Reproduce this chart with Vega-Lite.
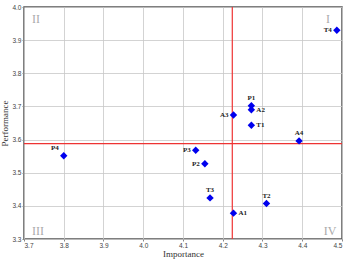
{
  "$schema": "https://vega.github.io/schema/vega-lite/v6.json",
  "width": 349,
  "height": 260,
  "autosize": {"type": "fit", "contains": "padding"},
  "padding": {"left": 0, "top": 4, "right": 6, "bottom": 1},
  "background": "white",
  "config": {
    "view": {"stroke": "#555555", "strokeWidth": 1.5},
    "axis": {
      "gridColor": "#c8c8c8",
      "gridWidth": 0.8,
      "domain": false,
      "tickColor": "#888888",
      "tickSize": 2,
      "labelFont": "Liberation Sans",
      "labelFontSize": 6.5,
      "labelColor": "#444444",
      "labelPadding": 1,
      "labelOverlap": false,
      "labelBound": false,
      "titleFont": "Liberation Serif",
      "titleFontSize": 9,
      "titleFontWeight": "normal",
      "titleColor": "#333333"
    },
    "axisX": {"values": [3.7, 3.8, 3.9, 4.0, 4.1, 4.2, 4.3, 4.4, 4.5], "format": ".1f", "titlePadding": 1},
    "axisY": {"values": [3.3, 3.4, 3.5, 3.6, 3.7, 3.8, 3.9, 4.0], "format": ".1f", "titlePadding": 2}
  },
  "datasets": {
    "pts": [
      {"name": "T4", "imp": 4.487, "perf": 3.930},
      {"name": "P1", "imp": 4.272, "perf": 3.702},
      {"name": "A2", "imp": 4.272, "perf": 3.690},
      {"name": "A3", "imp": 4.227, "perf": 3.674},
      {"name": "T1", "imp": 4.272, "perf": 3.643},
      {"name": "A4", "imp": 4.392, "perf": 3.596},
      {"name": "P3", "imp": 4.132, "perf": 3.568},
      {"name": "P2", "imp": 4.155, "perf": 3.527},
      {"name": "P4", "imp": 3.800, "perf": 3.551},
      {"name": "T3", "imp": 4.168, "perf": 3.424},
      {"name": "T2", "imp": 4.310, "perf": 3.407},
      {"name": "A1", "imp": 4.227, "perf": 3.378}
    ],
    "quad": [
      {"q": "I", "imp": 4.465, "perf": 3.965},
      {"q": "II", "imp": 3.73, "perf": 3.965},
      {"q": "III", "imp": 3.735, "perf": 3.325},
      {"q": "IV", "imp": 4.47, "perf": 3.325}
    ],
    "vline": [{"imp": 4.224}],
    "hline": [{"perf": 3.588}]
  },
  "layer": [
    {
      "data": {"name": "pts"},
      "mark": {"type": "point", "opacity": 0},
      "encoding": {
        "x": {"field": "imp", "type": "quantitative", "title": "Importance",
              "scale": {"domain": [3.7, 4.5], "nice": false, "zero": false}},
        "y": {"field": "perf", "type": "quantitative", "title": "Performance",
              "scale": {"domain": [3.3, 4.0], "nice": false, "zero": false}}
      }
    },
    {
      "data": {"name": "vline"},
      "mark": {"type": "rule", "color": "#ee3333", "strokeWidth": 1.2},
      "encoding": {"x": {"field": "imp", "type": "quantitative", "title": "Importance"}}
    },
    {
      "data": {"name": "hline"},
      "mark": {"type": "rule", "color": "#ee3333", "strokeWidth": 1.2},
      "encoding": {"y": {"field": "perf", "type": "quantitative", "title": "Performance"}}
    },
    {
      "data": {"name": "quad"},
      "mark": {"type": "text", "font": "Liberation Serif", "fontSize": 12, "color": "#aaaaaa", "align": "center", "baseline": "middle"},
      "encoding": {
        "x": {"field": "imp", "type": "quantitative", "title": "Importance"},
        "y": {"field": "perf", "type": "quantitative", "title": "Performance"},
        "text": {"field": "q"}
      }
    },
    {
      "data": {"name": "pts"},
      "mark": {"type": "point", "shape": "diamond", "filled": true, "color": "#0000ee", "size": 55, "opacity": 1},
      "encoding": {
        "x": {"field": "imp", "type": "quantitative", "title": "Importance"},
        "y": {"field": "perf", "type": "quantitative", "title": "Performance"}
      }
    },
    {
      "data": {"name": "pts"},
      "transform": [{"filter": {"field": "name", "oneOf": ["P1", "A4", "T3", "T2"]}}],
      "mark": {"type": "text", "font": "Liberation Serif", "fontWeight": "bold", "fontSize": 7, "color": "#222222", "align": "center", "baseline": "bottom", "dy": -5},
      "encoding": {
        "x": {"field": "imp", "type": "quantitative", "title": "Importance"},
        "y": {"field": "perf", "type": "quantitative", "title": "Performance"},
        "text": {"field": "name"}
      }
    },
    {
      "data": {"name": "pts"},
      "transform": [{"filter": {"field": "name", "oneOf": ["P4"]}}],
      "mark": {"type": "text", "font": "Liberation Serif", "fontWeight": "bold", "fontSize": 7, "color": "#222222", "align": "right", "baseline": "bottom", "dx": -5, "dy": -5},
      "encoding": {
        "x": {"field": "imp", "type": "quantitative", "title": "Importance"},
        "y": {"field": "perf", "type": "quantitative", "title": "Performance"},
        "text": {"field": "name"}
      }
    },
    {
      "data": {"name": "pts"},
      "transform": [{"filter": {"field": "name", "oneOf": ["T4", "A3", "P3", "P2"]}}],
      "mark": {"type": "text", "font": "Liberation Serif", "fontWeight": "bold", "fontSize": 7, "color": "#222222", "align": "right", "baseline": "middle", "dx": -5},
      "encoding": {
        "x": {"field": "imp", "type": "quantitative", "title": "Importance"},
        "y": {"field": "perf", "type": "quantitative", "title": "Performance"},
        "text": {"field": "name"}
      }
    },
    {
      "data": {"name": "pts"},
      "transform": [{"filter": {"field": "name", "oneOf": ["A2", "T1", "A1"]}}],
      "mark": {"type": "text", "font": "Liberation Serif", "fontWeight": "bold", "fontSize": 7, "color": "#222222", "align": "left", "baseline": "middle", "dx": 5},
      "encoding": {
        "x": {"field": "imp", "type": "quantitative", "title": "Importance"},
        "y": {"field": "perf", "type": "quantitative", "title": "Performance"},
        "text": {"field": "name"}
      }
    }
  ]
}
